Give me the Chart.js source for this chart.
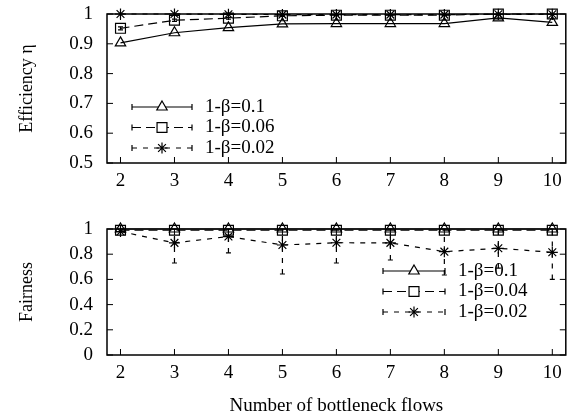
<!DOCTYPE html>
<html>
<head>
<meta charset="utf-8">
<script src="https://cdn.jsdelivr.net/npm/chart.js"></script>
<style>
  body { margin: 0; background: #fff; }
  #wrap { position: relative; width: 574px; height: 420px; }
  canvas { position: absolute; left: 0; }
</style>
</head>
<body>
<div id="wrap">
  <canvas id="effChart" width="574" height="200" style="top:0"></canvas>
  <canvas id="fairChart" width="574" height="220" style="top:200px"></canvas>
</div>
<script>
// x values (number of bottleneck flows)
var flows = [2, 3, 4, 5, 6, 7, 8, 9, 10];

// upper plot: efficiency
var effLabels = ["1-β=0.1", "1-β=0.06", "1-β=0.02"];
var eff01 = [0.903, 0.937, 0.954, 0.967, 0.968, 0.968, 0.968, 0.987, 0.972];
var eff006 = [0.952, 0.979, 0.986, 0.994, 0.996, 0.996, 0.996, 1.0, 1.0];
var eff006Low = [0.947, 0.975, 0.983, 0.992, 0.995, 0.995, 0.995, 1.0, 1.0];
var eff006High = [0.957, 0.983, 0.989, 0.996, 0.997, 0.997, 0.997, 1.0, 1.0];
var eff002 = [1.0, 1.0, 0.999, 0.998, 0.998, 0.998, 0.998, 0.999, 0.999];
var effTicks = [0.5, 0.6, 0.7, 0.8, 0.9, 1];

// lower plot: fairness
var fairLabels = ["1-β=0.1", "1-β=0.04", "1-β=0.02"];
var fair01 = [1, 1, 1, 1, 1, 1, 1, 1, 1];
var fair004 = [0.99, 0.99, 0.99, 0.99, 0.99, 0.99, 0.99, 0.99, 0.99];
var fair002 = [0.98, 0.89, 0.94, 0.873, 0.891, 0.89, 0.82, 0.847, 0.815];
var fair002Low = [0.98, 0.73, 0.81, 0.643, 0.73, 0.754, 0.635, 0.69, 0.60];
var fair002High = [1, 1, 1, 1, 1, 1, 1, 1, 1];
var fairTicks = [0, 0.2, 0.4, 0.6, 0.8, 1];

var serif = '"Liberation Serif", "Times New Roman", serif';
Chart.defaults.font.family = serif;
Chart.defaults.color = '#000';

function points(ys) {
    return flows.map(function (f, i) { return { x: f, y: ys[i] }; });
}

// gnuplot-like line + marker style
function series(label, ys, style, dash, radius) {
    return {
        label: label,
        data: points(ys),
        borderColor: '#000',
        borderWidth: 1.2,
        borderDash: dash,
        backgroundColor: 'rgba(0,0,0,0)',
        pointStyle: style,
        pointRadius: radius,
        pointBorderWidth: 1.2,
        pointBorderColor: '#000',
        pointBackgroundColor: 'rgba(0,0,0,0)',
        tension: 0,
        clip: false
    };
}

// Draws error bars, the border with inward ticks, and the key
var gnuplotLook = {
    id: 'gnuplotLook',
    beforeDatasetsDraw: function (chart) {
        var ctx = chart.ctx, xs = chart.scales.x, ys = chart.scales.y;
        chart.data.datasets.forEach(function (ds) {
            if (!ds.errLow) return;
            ctx.save();
            ctx.strokeStyle = '#000';
            ctx.lineWidth = ds.borderWidth;
            ds.data.forEach(function (p, i) {
                var px = xs.getPixelForValue(p.x);
                var lo = ys.getPixelForValue(ds.errLow[i]);
                var hi = ys.getPixelForValue(ds.errHigh[i]);
                ctx.setLineDash(ds.borderDash);
                ctx.beginPath(); ctx.moveTo(px, lo); ctx.lineTo(px, hi); ctx.stroke();
                ctx.setLineDash([]);
                ctx.beginPath();
                ctx.moveTo(px - 2.5, lo); ctx.lineTo(px + 2.5, lo);
                ctx.moveTo(px - 2.5, hi); ctx.lineTo(px + 2.5, hi);
                ctx.stroke();
            });
            ctx.restore();
        });
    },
    afterDatasetsDraw: function (chart, args, o) {
        var ctx = chart.ctx, a = chart.chartArea;
        var xs = chart.scales.x, ys = chart.scales.y;
        ctx.save();
        ctx.strokeStyle = '#000';
        ctx.lineWidth = 1.5;
        ctx.strokeRect(a.left, a.top, a.right - a.left, a.bottom - a.top);
        ctx.lineWidth = 1;
        ctx.beginPath();
        xs.ticks.forEach(function (t) {
            var px = xs.getPixelForValue(t.value);
            ctx.moveTo(px, a.bottom); ctx.lineTo(px, a.bottom - 6);
            ctx.moveTo(px, a.top); ctx.lineTo(px, a.top + 6);
        });
        ys.ticks.forEach(function (t) {
            var py = ys.getPixelForValue(t.value);
            ctx.moveTo(a.left, py); ctx.lineTo(a.left + 6, py);
            ctx.moveTo(a.right, py); ctx.lineTo(a.right - 6, py);
        });
        ctx.stroke();

        // key
        ctx.font = '19px ' + serif;
        ctx.textBaseline = 'middle';
        ctx.fillStyle = '#000';
        chart.data.datasets.forEach(function (ds, i) {
            var y = o.y + i * o.rowHeight;
            var x0 = o.x, x1 = o.x + o.width;
            ctx.lineWidth = ds.borderWidth;
            ctx.setLineDash(ds.borderDash);
            ctx.beginPath(); ctx.moveTo(x0, y); ctx.lineTo(x1, y); ctx.stroke();
            ctx.setLineDash([]);
            ctx.beginPath();
            ctx.moveTo(x0, y - 3); ctx.lineTo(x0, y + 3);
            ctx.moveTo(x1, y - 3); ctx.lineTo(x1, y + 3);
            ctx.stroke();
            ctx.fillStyle = '#fff';
            ctx.lineWidth = ds.pointBorderWidth;
            Chart.helpers.drawPoint(ctx, {
                pointStyle: ds.pointStyle, radius: ds.pointRadius,
                rotation: 0, borderWidth: ds.pointBorderWidth
            }, (x0 + x1) / 2, y);
            ctx.fillStyle = '#000';
            ctx.fillText(ds.label, o.textX, y);
        });
        ctx.restore();
    }
};

function makeScales(yTicks, yTitle, xTitle, xHeight) {
    return {
        x: {
            type: 'linear',
            min: 1.75,
            max: 10.25,
            afterBuildTicks: function (s) { s.ticks = flows.map(function (v) { return { value: v }; }); },
            afterFit: function (s) { s.height = xHeight; s.paddingLeft = 0; s.paddingRight = 0; },
            grid: { display: false, drawTicks: false },
            border: { display: false },
            ticks: { font: { size: 19 }, padding: 7, autoSkip: false, maxRotation: 0 },
            title: {
                display: !!xTitle,
                text: xTitle || '',
                font: { size: 19 },
                padding: { top: 0, bottom: 3 }
            }
        },
        y: {
            type: 'linear',
            min: yTicks[0],
            max: yTicks[yTicks.length - 1],
            afterBuildTicks: function (s) { s.ticks = yTicks.map(function (v) { return { value: v }; }); },
            // fixed axis width, and no extra room above the top tick label
            afterFit: function (s) { s.width = 107; s.paddingTop = 0; s.paddingBottom = 0; },
            grid: { display: false, drawTicks: false },
            border: { display: false },
            ticks: {
                font: { size: 19 },
                padding: 14,
                autoSkip: false,
                callback: function (v) { return String(v); }
            },
            title: {
                display: true,
                text: yTitle,
                font: { size: 18 },
                padding: { top: 16, bottom: 0 }
            }
        }
    };
}

var effSquares = series(effLabels[1], eff006, 'rect', [9, 5], 7);
effSquares.errLow = eff006Low;
effSquares.errHigh = eff006High;

new Chart(document.getElementById('effChart'), {
    type: 'line',
    data: {
        datasets: [
            series(effLabels[0], eff01, 'triangle', [], 6),
            effSquares,
            series(effLabels[2], eff002, 'star', [5, 6], 5.5)
        ]
    },
    options: {
        responsive: false,
        animation: false,
        devicePixelRatio: 1,
        layout: { padding: { top: 14, right: 7, bottom: 0, left: 0 } },
        scales: makeScales(effTicks, 'Efficiency η', null, 37),
        plugins: {
            legend: { display: false },
            tooltip: { enabled: false },
            gnuplotLook: { x: 132, y: 107, width: 60, rowHeight: 20.5, textX: 205 }
        }
    },
    plugins: [gnuplotLook]
});

var fairStars = series(fairLabels[2], fair002, 'star', [5, 6], 5.5);
fairStars.errLow = fair002Low;
fairStars.errHigh = fair002High;

new Chart(document.getElementById('fairChart'), {
    type: 'line',
    data: {
        datasets: [
            series(fairLabels[0], fair01, 'triangle', [], 6),
            series(fairLabels[1], fair004, 'rect', [9, 5], 7),
            fairStars
        ]
    },
    options: {
        responsive: false,
        animation: false,
        devicePixelRatio: 1,
        layout: { padding: { top: 29, right: 7, bottom: 0, left: 0 } },
        scales: makeScales(fairTicks, 'Fairness', 'Number of bottleneck flows', 65),
        plugins: {
            legend: { display: false },
            tooltip: { enabled: false },
            gnuplotLook: { x: 383, y: 71, width: 62, rowHeight: 20.5, textX: 458 }
        }
    },
    plugins: [gnuplotLook]
});
</script>
</body>
</html>
